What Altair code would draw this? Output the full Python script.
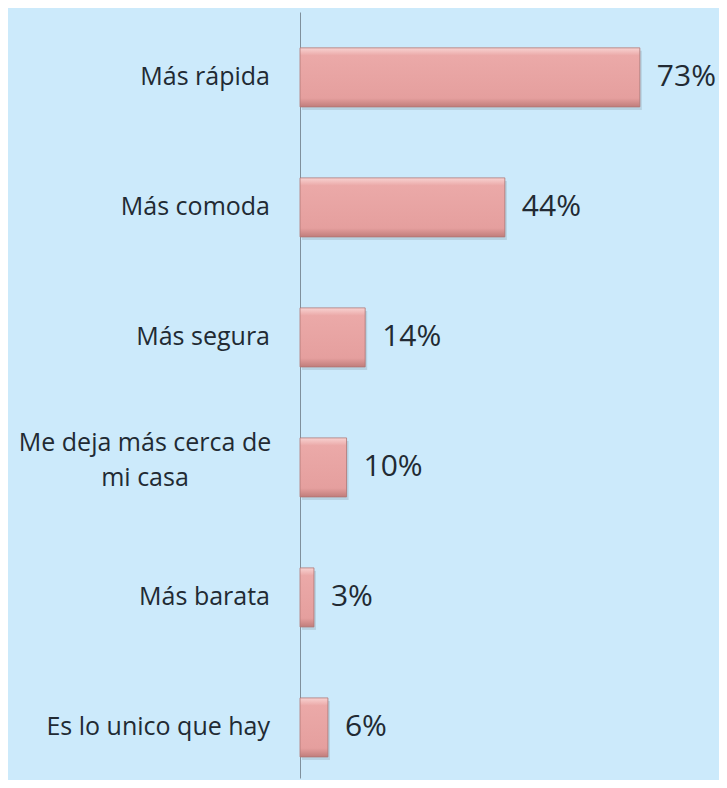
import altair as alt
import pandas as pd

categories = ["Más rápida", "Más comoda", "Más segura", "Me deja más cerca de|mi casa", "Más barata", "Es lo unico que hay"]
values = [73, 44, 14, 10, 3, 6]

df = pd.DataFrame({"cat": categories, "value": values})
df["pct"] = df["value"].astype(str) + "%"
df["lines"] = df["cat"].str.split("|")
df["wrapped"] = df["cat"].str.contains(r"\|")

FONT = "Open Sans"
BG = "#cceafb"
TXT = "#222a33"

y_scale = alt.Scale(paddingInner=0.546, paddingOuter=0.219, align=0.63)
y_enc = alt.Y("cat:N", sort=categories, scale=y_scale,
              axis=alt.Axis(labels=False, ticks=False, title=None, grid=False,
                            domainColor="#7f909c", domainWidth=1))
x_enc = alt.X("value:Q", scale=alt.Scale(domain=[0, 90], nice=False), axis=None)

base = alt.Chart(df)

shadow = base.mark_bar(color="#6f7f8a", opacity=0.22, xOffset=2, yOffset=3).encode(x=x_enc, y=y_enc)

bars = base.mark_bar(
    color=alt.Gradient(
        gradient="linear", x1=0, x2=0, y1=0, y2=1,
        stops=[alt.GradientStop(offset=0, color="#f8d3d2"),
               alt.GradientStop(offset=0.13, color="#eba9a8"),
               alt.GradientStop(offset=0.85, color="#e59f9e"),
               alt.GradientStop(offset=1, color="#c07d7b")]),
    stroke="#b07674", strokeWidth=0.8,
).encode(x=x_enc, y=y_enc)

pct = base.mark_text(align="left", baseline="middle", dx=17, font=FONT, fontSize=30,
                     color=TXT).encode(x=x_enc, y=y_enc, text="pct:N")

labels_single = base.transform_filter("!datum.wrapped").mark_text(
    align="right", baseline="middle", font=FONT, fontSize=25, color=TXT
).encode(x=alt.value(-30), y=y_enc, text="cat:N")

labels_wrapped = base.transform_filter("datum.wrapped").mark_text(
    align="center", baseline="middle", font=FONT, fontSize=25, color=TXT,
    lineHeight=35, dy=-24
).encode(x=alt.value(-155), y=y_enc, text="lines")

chart = alt.layer(shadow, bars, pct, labels_single, labels_wrapped).properties(
    width=419, height=766,
    padding={"left": 292, "top": 4, "right": 0, "bottom": 2},
    autosize="none",
    background=BG,
).configure_view(stroke=None)

chart.save("out.html", embed_options={"renderer": "svg", "actions": False})
